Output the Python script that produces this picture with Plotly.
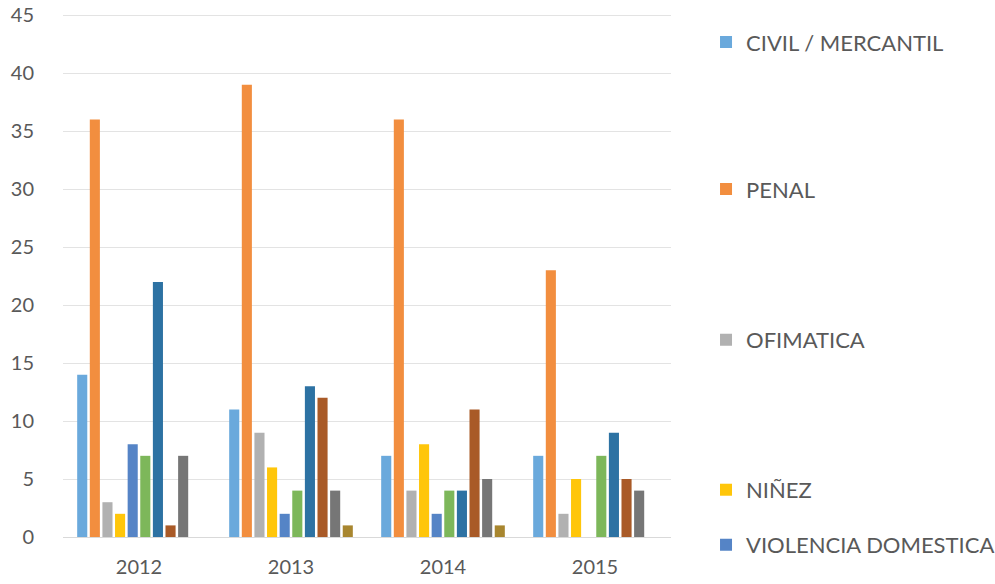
import plotly.graph_objects as go

years = ["2012", "2013", "2014", "2015"]

civil_mercantil = [14, 11, 7, 7]
penal = [36, 39, 36, 23]
ofimatica = [3, 9, 4, 2]
ninez = [2, 6, 8, 5]
violencia_domestica = [8, 2, 2, 0]
serie6 = [7, 4, 4, 7]
serie7 = [22, 13, 4, 9]
serie8 = [1, 12, 11, 5]
serie9 = [7, 4, 5, 4]
serie10 = [0, 1, 1, 0]

series_names = ["CIVIL / MERCANTIL", "PENAL", "OFIMATICA", "NIÑEZ", "VIOLENCIA DOMESTICA",
                "Serie 6", "Serie 7", "Serie 8", "Serie 9", "Serie 10"]
series_values = [civil_mercantil, penal, ofimatica, ninez, violencia_domestica,
                 serie6, serie7, serie8, serie9, serie10]
colors = ["#6AA9DC", "#F28E3F", "#B1B1B1", "#FFC60A", "#5584C6",
          "#7DB75A", "#2D72A3", "#A95A27", "#767676", "#A8862F"]

y_ticks = [0, 5, 10, 15, 20, 25, 30, 35, 40, 45]

fig = go.Figure()
legend_ids = ["legend", "legend2", "legend3", "legend4", "legend5"]
for i, (name, vals, col) in enumerate(zip(series_names, series_values, colors)):
    fig.add_trace(go.Bar(
        x=years, y=vals, name=name,
        marker=dict(color=col, line=dict(width=0)),
        showlegend=i < 5,
        legend=legend_ids[i] if i < 5 else None,
    ))

font_family = "Lato, 'Open Sans', sans-serif"
leg_y = [0.946, 0.665, 0.377, 0.090, -0.015]
layout_legends = {}
for lid, yv in zip(legend_ids, leg_y):
    layout_legends[lid] = dict(
        x=1.0576, xanchor="left", y=yv, yanchor="middle",
        font=dict(size=22, color="#595959", family=font_family),
        bgcolor="rgba(0,0,0,0)", itemwidth=30,
    )

fig.update_layout(
    width=995, height=584,
    margin=dict(l=63, r=324, t=14, b=47, autoexpand=False),
    paper_bgcolor="white", plot_bgcolor="white",
    barmode="group", bargap=0.17, bargroupgap=0.2,
    font=dict(family=font_family, color="#595959"),
    xaxis=dict(showgrid=False, showline=True, linecolor="#d9d9d9", linewidth=1,
               ticks="", tickfont=dict(size=20, color="#595959"), ticklabelstandoff=12),
    yaxis=dict(range=[0, 45.1], tickvals=y_ticks, showgrid=True, gridcolor="#e3e3e3",
               gridwidth=1, zeroline=False, showline=False, ticks="",
               tickfont=dict(size=20, color="#595959"), ticklabelstandoff=28),
    **layout_legends,
)

fig.write_html("out.html", config={"displayModeBar": False},
               post_script="document.body.style.margin='0px';")
